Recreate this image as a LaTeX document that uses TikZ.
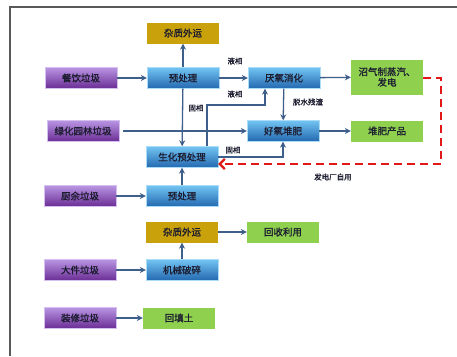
\documentclass[tikz,border=0pt]{standalone}
\usepackage{fontspec}
\setmainfont{Noto Sans CJK SC}
\newfontfamily\cjkb[FakeBold=1.2]{Noto Sans CJK SC}
\usetikzlibrary{arrows.meta}
\definecolor{arr}{HTML}{3E5F8A}
\definecolor{txt}{HTML}{1C1C30}
\definecolor{gold}{HTML}{C9A10A}
\definecolor{grn}{HTML}{8FD14F}
\definecolor{ptop}{HTML}{B995E3}
\definecolor{pbot}{HTML}{6A2C94}
\definecolor{btop}{HTML}{72C4F2}
\definecolor{bbot}{HTML}{2368B0}
\definecolor{rd}{HTML}{E01818}
\tikzset{
  box/.style={minimum width=72pt,minimum height=21pt,inner sep=0pt,font=\cjkb\fontsize{9.5}{10.5}\selectfont,text=txt},
  src/.style={box,top color=ptop,bottom color=pbot,draw=ptop!60!white,line width=0.4pt},
  proc/.style={box,top color=btop,bottom color=bbot,draw=btop!60!white,line width=0.4pt},
  waste/.style={box,fill=gold},
  prod/.style={box,fill=grn},
  con/.style={draw=arr,line width=1.3pt,-{Stealth[length=6pt,width=6pt]}},
  lab/.style={font=\cjkb\fontsize{7.5}{8.5}\selectfont,text=txt,inner sep=0pt},
  reddash/.style={draw=rd,line width=2.2pt,dash pattern=on 8pt off 5pt}
}
\begin{document}
\begin{tikzpicture}[x=1pt,y=-1pt]
\useasboundingbox (0,0) rectangle (457,356);
\fill[white] (0,0) rectangle (457,356);
\draw[gray!70!black,line width=1.2pt] (10,356) -- (10,7) -- (457,7);
% nodes
\node[waste] (zz1) at (183,33) {杂质外运};
\node[src] (cy) at (81,78) {餐饮垃圾};
\node[proc] (yc1) at (183,78) {预处理};
\node[proc] (ly) at (284,78) {厌氧消化};
\node[prod,minimum height=35pt,align=center] (zq) at (387,77) {沼气制蒸汽、\\发电};
\node[src] (lh) at (83,131) {绿化园林垃圾};
\node[proc] (hy) at (283,131) {好氧堆肥};
\node[prod] (df) at (387,131) {堆肥产品};
\node[proc] (sh) at (182,157) {生化预处理};
\node[src] (cu) at (80,196) {厨余垃圾};
\node[proc] (yc2) at (182,196) {预处理};
\node[waste] (zz2) at (182,232) {杂质外运};
\node[prod] (hs) at (283,232) {回收利用};
\node[src] (dj) at (80,270) {大件垃圾};
\node[proc] (jx) at (182,270) {机械破碎};
\node[src] (zx) at (80,318) {装修垃圾};
\node[prod] (ht) at (179,318) {回填土};
% connectors
\draw[con] (yc1) -- (zz1);
\draw[con] (cy) -- (yc1);
\draw[con] (yc1) -- (ly);
\draw[con] (yc1) -- (sh);
\draw[con] (sh.north -| 207,0) -- (207,105) -- (265,105) -- (ly.south -| 265,0);
\draw[con] (lh.east) ++(4,0) coordinate (lhs) -- (hy.west);
\draw[con] (ly) -- (hy);
\draw[con] (sh.east) ++(0,0) coordinate (she) -- (she -| 283,0) -- (hy.south -| 283,0);
\draw[con] (hy) -- (df);
\draw[con] (ly) -- (zq);
\draw[con] (cu) -- (yc2);
\draw[con] (yc2) -- (sh);
\draw[con] (dj) -- (jx);
\draw[con] (jx) -- (zz2);
\draw[con] (zz2) -- (hs);
\draw[con] (zx) -- (ht);
\coordinate (rd1) at (441,78);
\coordinate (rd2) at (441,164);
\draw[reddash,-{Straight Barb[length=5pt,width=10pt]}] (zq.east |- rd1) -- (rd1) -- (rd2) -- (sh.east |- rd2);
% labels
\node[lab] (l1) at (235,61) {液相};
\node[lab] (l2) at (235,94) {液相};
\node[lab] (l3) at (196,108) {固相};
\node[lab] (l4) at (308,102) {脱水残渣};
\node[lab] (l5) at (233,150) {固相};
\node[lab] (l6) at (333,177) {发电厂自用};
\end{tikzpicture}
\end{document}
